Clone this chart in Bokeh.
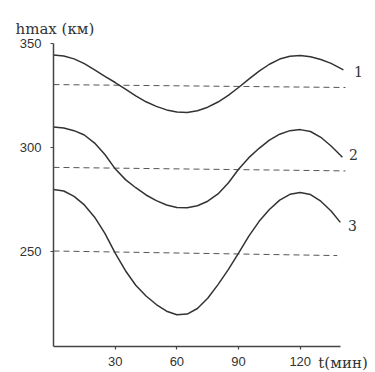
from bokeh.plotting import figure
from bokeh.models import Range1d, Label, FixedTicker
from bokeh.embed import file_html
from bokeh.resources import INLINE

# --- data ---
t1 = [0, 5, 10, 15, 20, 25, 30, 35, 40, 45, 50, 55, 60, 65, 70, 75, 80, 85, 90, 95, 100, 105, 110, 115, 120, 125, 130, 135, 141]
h1 = [344.5, 344.0, 342.6, 340.3, 337.3, 334.2, 331.2, 328.0, 324.8, 321.9, 319.7, 318.0, 317.0, 316.8, 317.6, 319.3, 321.8,
      325.0, 328.8, 332.8, 336.7, 340.0, 342.5, 343.9, 344.2, 343.6, 342.3, 340.4, 337.3]

t2 = [0, 5, 10, 15, 20, 25, 30, 35, 40, 45, 50, 55, 60, 65, 70, 75, 80, 85, 90, 95, 100, 105, 110, 115, 120, 125, 130, 135, 140.5]
h2 = [309.8, 309.3, 308.0, 305.9, 302.0, 296.5, 289.6, 284.4, 280.5, 277.0, 274.3, 272.2, 271.0, 270.8, 271.8, 274.0, 277.5,
      282.8, 289.4, 295.0, 299.5, 303.4, 306.3, 308.0, 308.5, 307.6, 304.8, 300.6, 295.2]

t3 = [0, 5, 10, 15, 20, 25, 30, 35, 40, 45, 50, 55, 60, 65, 70, 75, 80, 85, 90, 95, 100, 105, 110, 115, 120, 125, 130, 135, 139.5]
h3 = [279.6, 278.9, 276.3, 272.2, 266.3, 258.5, 249.0, 240.5, 233.5, 228.3, 224.2, 221.0, 219.3, 219.6, 222.3, 227.2, 233.8,
      241.0, 249.0, 257.2, 264.3, 270.0, 274.5, 277.3, 278.2, 277.2, 274.0, 269.3, 263.8]

# mean levels (dashed), start and end as drawn
d1_t = [0, 142]
d1_h = [330.2, 328.8]
d2_t = [0, 142]
d2_h = [290.3, 288.6]
d3_t = [0, 138]
d3_h = [250.0, 247.8]

curve_names = ["1", "2", "3"]
curve_label_t = [148.3, 145.9, 145.4]
curve_label_h = [336.5, 296.5, 262.3]

x_ticks = [30, 60, 90, 120]
y_ticks = [250, 300, 350]
y_title = "hmax (км)"
x_title = "t(мин)"

ink = "#333333"

p = figure(width=375, height=372,
           x_range=Range1d(0, 156.6), y_range=Range1d(191.45, 350),
           output_backend="svg", toolbar_location=None,
           min_border_left=53, min_border_right=0,
           min_border_top=43, min_border_bottom=0)
p.outline_line_color = None
p.grid.visible = False
p.background_fill_color = "white"
p.border_fill_color = "white"

for ax in (p.xaxis[0], p.yaxis[0]):
    ax.axis_line_color = "#444444"
    ax.axis_line_width = 1.5
    ax.major_tick_line_color = "#444444"
    ax.major_tick_line_width = 1.2
    ax.major_tick_out = 3
    ax.major_tick_in = 0
    ax.minor_tick_line_color = None
    ax.major_label_text_font = "Liberation Sans"
    ax.major_label_text_font_size = "13px"
    ax.major_label_text_color = ink

p.xaxis.ticker = FixedTicker(ticks=x_ticks)
p.yaxis.ticker = FixedTicker(ticks=y_ticks)
p.xaxis.bounds = (0, 139.5)
p.yaxis.bounds = (204, 350)
p.xaxis.fixed_location = 204
p.xaxis.major_label_standoff = 8
p.yaxis.major_label_standoff = 9

p.title.text = y_title
p.title.align = "left"
p.title.vertical_align = "middle"
p.title.offset = -38
p.title.standoff = 10
p.title.text_font = "DejaVu Serif"
p.title.text_font_size = "15px"
p.title.text_font_style = "normal"
p.title.text_color = ink

for dt, dh in ((d1_t, d1_h), (d2_t, d2_h), (d3_t, d3_h)):
    p.line(dt, dh, line_color="#555555", line_width=1, line_dash="6 4")

for tt, hh in ((t1, h1), (t2, h2), (t3, h3)):
    p.line(tt, hh, line_color=ink, line_width=1.5)

for name, lt, lh in zip(curve_names, curve_label_t, curve_label_h):
    p.add_layout(Label(x=lt, y=lh, text=name, text_align="center", text_baseline="middle",
                       text_font="DejaVu Serif", text_font_size="14px", text_color=ink))

p.add_layout(Label(x=128.8, y=195.8, text=x_title, text_align="left", text_baseline="middle",
                   text_font="DejaVu Serif", text_font_size="15px", text_color=ink))

open("out.html", "w").write(file_html(p, INLINE))
